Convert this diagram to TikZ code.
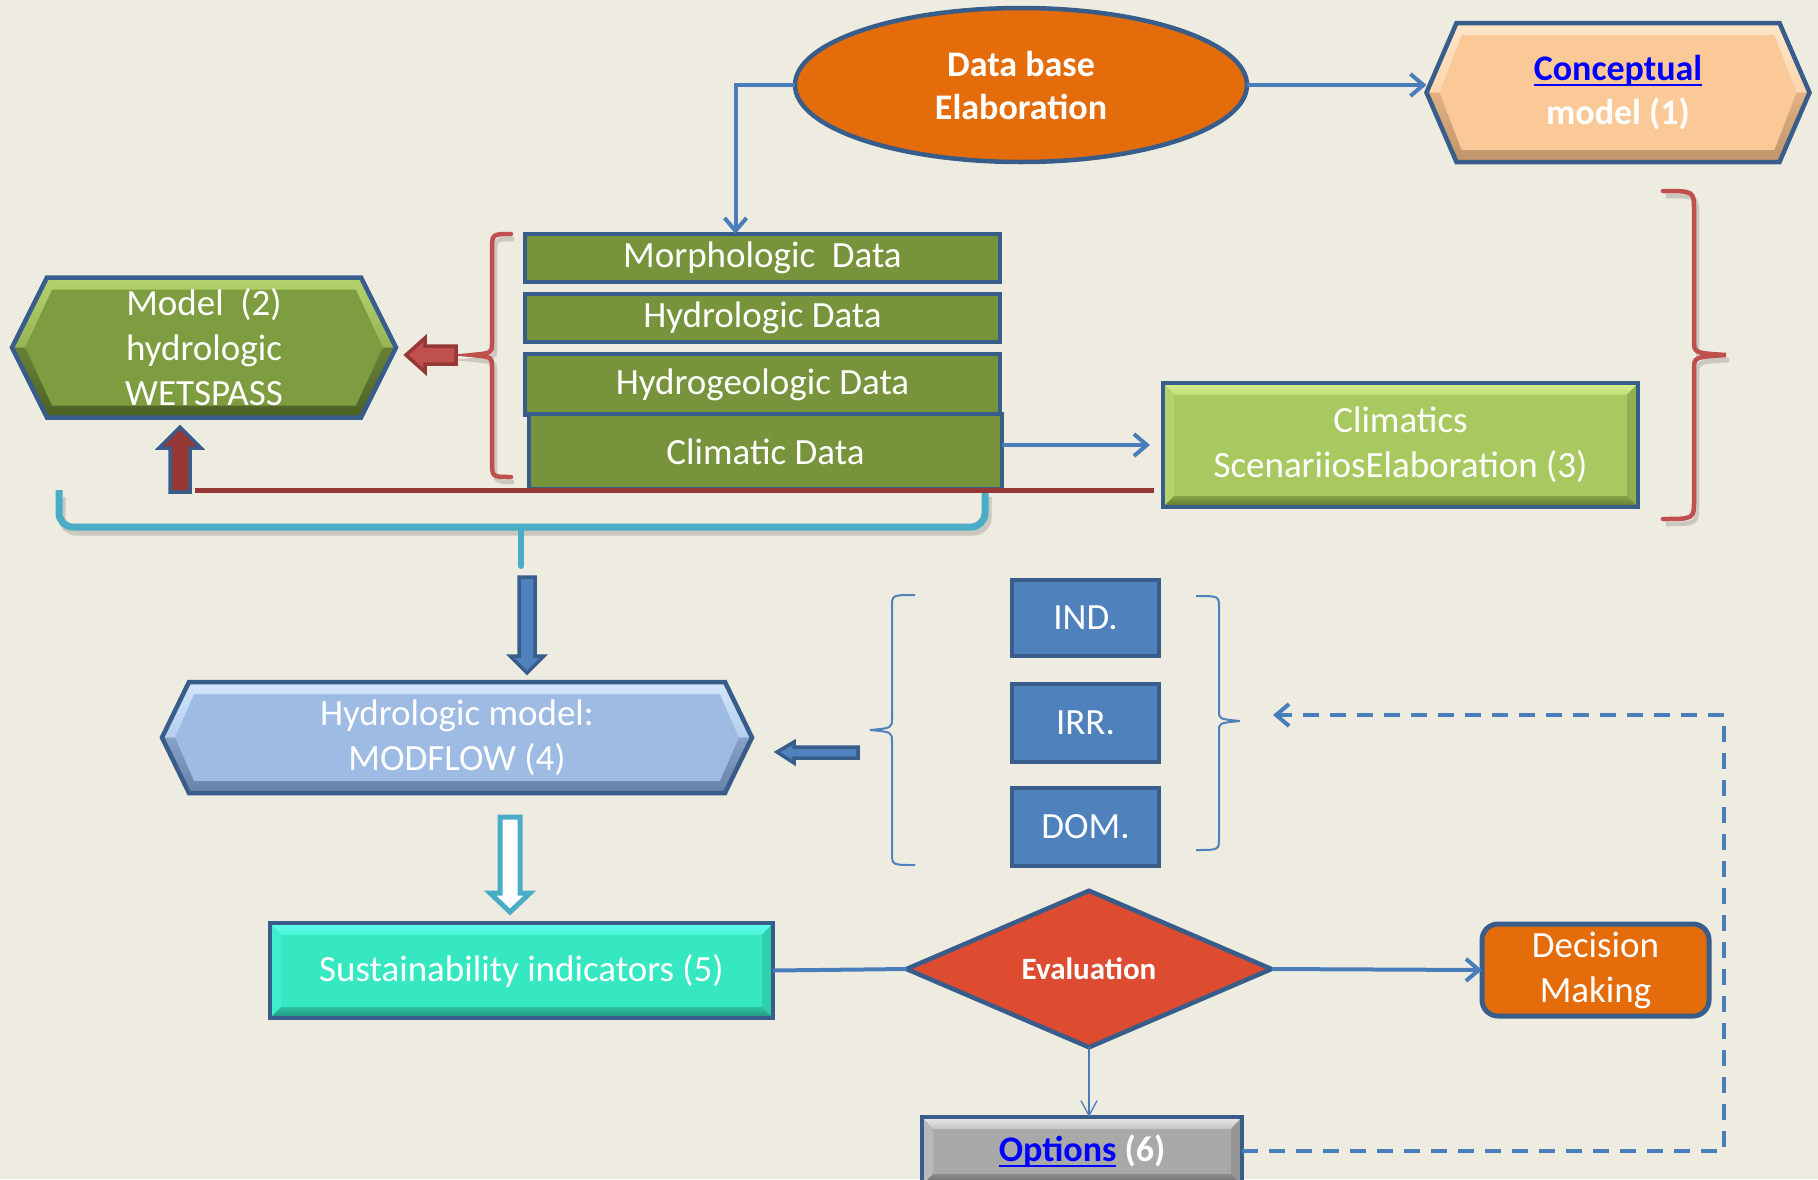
\documentclass[tikz,border=0pt]{standalone}
\usepackage{fontspec}
\setmainfont{Carlito}
\usetikzlibrary{shapes.geometric,arrows.meta,calc}

% palette
\definecolor{paper}{HTML}{EEECE1}
\definecolor{edge}{HTML}{385D8A}
\definecolor{link}{HTML}{4A7EBB}
\definecolor{accblue}{HTML}{4F81BD}
\definecolor{accred}{HTML}{C0504D}
\definecolor{deepred}{HTML}{953735}
\definecolor{aqua}{HTML}{4BACC6}
\definecolor{leaf}{HTML}{77933C}
\definecolor{pumpkin}{HTML}{E46C0A}
\definecolor{evalred}{HTML}{DD4B31}
\definecolor{hyperblue}{HTML}{0000FF}
\definecolor{apricot}{HTML}{FBC898}
\definecolor{apricotlight}{HTML}{FFE6C8}
\definecolor{apricotdark}{HTML}{BF956A}
\definecolor{moss}{HTML}{7E9C40}
\definecolor{mosslight}{HTML}{B5D36C}
\definecolor{mossdark}{HTML}{4C6126}
\definecolor{sky}{HTML}{9DBBE3}
\definecolor{skylight}{HTML}{D2E6FB}
\definecolor{skydark}{HTML}{6882A8}
\definecolor{sprout}{HTML}{A7C95F}
\definecolor{sproutlight}{HTML}{DAF290}
\definecolor{sproutdark}{HTML}{5F762E}
\definecolor{teal}{HTML}{35E8C2}
\definecolor{teallight}{HTML}{62FFF2}
\definecolor{tealdark}{HTML}{22937B}
\definecolor{silver}{HTML}{A9A9A9}
\definecolor{silverlight}{HTML}{EAEAEA}
\definecolor{silverdark}{HTML}{666666}

\pgfdeclarelayer{paperlayer}
\pgfdeclarelayer{bodylayer}
\pgfsetlayers{paperlayer,bodylayer,main}

% underlined hyperlink-style word
\newcommand\hlink[1]{\textcolor{hyperblue}{\sbox0{#1}\rlap{\rule[-6pt]{\wd0}{2.5pt}}\usebox0}}

% bevelled hexagon drawn behind a named node: node, indent, face, light, dark
\newcommand\hexbody[5]{%
  \fill[#3] (#1.west) -- ([xshift=#2]#1.north west) -- ([xshift=-#2]#1.north east) -- (#1.east)
    -- ([xshift=-#2]#1.south east) -- ([xshift=#2]#1.south west) -- cycle;
  % upper bevel
  \shade[top color=#4, bottom color=#4!45!#3]
    (#1.west) -- ([xshift=#2]#1.north west) -- ([xshift=-#2]#1.north east) -- (#1.east)
    -- ([xshift=-13pt]#1.east) -- ([xshift=-#2-5pt, yshift=-12pt]#1.north east)
    -- ([xshift=#2+5pt, yshift=-12pt]#1.north west) -- ([xshift=13pt]#1.west) -- cycle;
  % lower bevel
  \shade[top color=#5!45!#3, bottom color=#5]
    (#1.east) -- ([xshift=-#2]#1.south east) -- ([xshift=#2]#1.south west) -- (#1.west)
    -- ([xshift=13pt]#1.west) -- ([xshift=#2+5pt, yshift=12pt]#1.south west)
    -- ([xshift=-#2-5pt, yshift=12pt]#1.south east) -- ([xshift=-13pt]#1.east) -- cycle;
  \draw[edge, line width=4.5pt, line join=miter] (#1.west) -- ([xshift=#2]#1.north west)
    -- ([xshift=-#2]#1.north east) -- (#1.east) -- ([xshift=-#2]#1.south east)
    -- ([xshift=#2]#1.south west) -- cycle;
}

\tikzset{
  every node/.style={inner sep=0pt, outer sep=0pt},
  txt/.style={text=white, align=center, font=\fontsize{37}{45}\selectfont},
  boldtxt/.style={text=white, align=center, font=\fontsize{36}{44}\selectfont\bfseries},
  databox/.style={txt, draw=edge, line width=4.5pt, fill=leaf, minimum width=475pt},
  usebox/.style={txt, draw=edge, line width=4.5pt, fill=accblue, minimum width=147pt},
  % bevelled rectangle face: face, light, dark
  facet/.style n args={3}{fill=#1, path picture={
      \coordinate (pNW) at (path picture bounding box.north west);
      \coordinate (pNE) at (path picture bounding box.north east);
      \coordinate (pSW) at (path picture bounding box.south west);
      \coordinate (pSE) at (path picture bounding box.south east);
      \shade[top color=#2, bottom color=#2!45!#1]
        (pNW) -- (pNE) -- ([shift={(-11pt,-12pt)}]pNE) -- ([shift={(11pt,-12pt)}]pNW) -- cycle;
      \fill[#2!25!#1]
        (pNW) -- ([shift={(11pt,-12pt)}]pNW) -- ([shift={(11pt,11pt)}]pSW) -- (pSW) -- cycle;
      \fill[#3!30!#1]
        (pNE) -- ([shift={(-11pt,-12pt)}]pNE) -- ([shift={(-11pt,11pt)}]pSE) -- (pSE) -- cycle;
      \shade[top color=#3!45!#1, bottom color=#3]
        (pSW) -- (pSE) -- ([shift={(-11pt,11pt)}]pSE) -- ([shift={(11pt,11pt)}]pSW) -- cycle;}},
  linkarrow/.style={draw=link, line width=4pt, -{Straight Barb[length=13pt,width=22pt]}},
  linkline/.style={draw=link, line width=4pt},
  thinlink/.style={draw=link, line width=1.3pt, -{Straight Barb[length=15pt,width=16pt]}},
  feedback/.style={draw=link, line width=4pt, dash pattern=on 16pt off 11pt, -{Straight Barb[length=13pt,width=22pt]}},
  redbrace/.style={draw=accred, line width=4.5pt, line cap=round},
  bluebrace/.style={draw=accblue, line width=2pt},
  blockedge/.style={line width=3.5pt, line join=miter},
  haze/.style={draw=black, opacity=0.15},
}

\begin{document}
\begin{tikzpicture}[x=1pt,y=-1pt]
\begin{pgfonlayer}{paperlayer}
  \fill[paper] (0,0) rectangle (1818,1179);
\end{pgfonlayer}
\useasboundingbox (0,0) rectangle (1818,1179);

% ---- top row
\node[ellipse, draw=edge, line width=4.5pt, fill=pumpkin, minimum width=452pt, minimum height=154pt,
      boldtxt, font=\fontsize{36}{43}\selectfont\bfseries] (db) at (1021,85) {Data base\\Elaboration};
\node[boldtxt, minimum width=383pt, minimum height=139pt] (concept) at (1618,92.5)
      {\hlink{Conceptual}\\model (1)};

% ---- data sources
\node[databox, minimum height=48pt] (morph) at (762.5,258) {Morphologic~~Data};
\node[databox, minimum height=48pt] (hydro) at (762.5,318) {Hydrologic Data};
\node[databox, minimum height=61pt] (hgeo) at (762.5,384.5) {Hydrogeologic Data};
\node[databox, minimum width=473pt, minimum height=75pt] (clim) at (765.5,451.5) {Climatic Data};

\node[txt, facet={sprout}{sproutlight}{sproutdark}, draw=edge, line width=4.5pt,
      minimum width=475pt, minimum height=124pt] (scen) at (1400.5,445)
      {Climatics\\ScenariiosElaboration (3)};

\node[txt, minimum width=384pt, minimum height=140pt] (wetspass) at (204,347.5)
      {Model~~(2)\\hydrologic\\WETSPASS};

% ---- groundwater model and demands
\node[txt, minimum width=590pt, minimum height=111pt] (hmod) at (457,737.5)
      {Hydrologic model:\\MODFLOW (4)};
\node[usebox, minimum height=76pt] (ind) at (1085.5,618) {IND.};
\node[usebox, minimum height=78pt] (irr) at (1085.5,723) {IRR.};
\node[usebox, minimum height=78pt] (dom) at (1085.5,827) {DOM.};

% ---- evaluation row
\node[txt, facet={teal}{teallight}{tealdark}, draw=edge, line width=4.5pt,
      minimum width=503pt, minimum height=95pt] (sust) at (521.5,970.5) {Sustainability indicators (5)};
\node[diamond, draw=edge, line width=4.5pt, fill=evalred, minimum width=365pt, minimum height=153pt,
      text=white, font=\fontsize{31}{37}\selectfont\bfseries] (eval) at (1089,969) {Evaluation};
\node[txt, draw=edge, line width=5pt, fill=pumpkin, rounded corners=16pt,
      minimum width=227pt, minimum height=92pt] (dec) at (1595.5,970) {Decision\\Making};
\node[boldtxt, facet={silver}{silverlight}{silverdark}, draw=edge, line width=4.5pt,
      minimum width=320pt, minimum height=68pt] (opt) at (1082,1151) {\hlink{Options} (6)};

% ---- hexagon bodies behind their labels
\begin{pgfonlayer}{bodylayer}
  \hexbody{concept}{30pt}{apricot}{apricotlight}{apricotdark}
  \hexbody{wetspass}{35pt}{moss}{mosslight}{mossdark}
  \hexbody{hmod}{27pt}{sky}{skylight}{skydark}
\end{pgfonlayer}

% ---- connectors
\draw[linkarrow] (db.east) -- (db.east -| concept.west);
\draw[linkarrow] (db.west) -| ([xshift=-27pt]morph.north);
\draw[linkarrow] (scen.west -| clim.east) -- ([xshift=-13pt]scen.west);
\draw[linkline] (sust.east) -- (eval.west);
\draw[linkarrow] (eval.east) -- (dec.west);
\draw[thinlink] (eval.south) -- (eval.south |- opt.north);
\coordinate (fbcorner) at (1724,1151);
\coordinate (fbtop) at (1724,715);
\coordinate (fbend) at (1273,715);
\draw[feedback] (opt.east) -- (fbcorner) -- (fbtop) -- (fbend);

% ---- braces
\begin{scope}[shift={(3,5)}]
  \draw[haze, line width=4.5pt] (511,234) .. controls (492,234) .. (492,250) -- (492,343)
    .. controls (492,353) .. (472,355) .. controls (492,357) .. (492,367) -- (492,461)
    .. controls (492,477) .. (511,477);
  \draw[haze, line width=4.5pt] (1663,191) .. controls (1694,191) .. (1694,210) -- (1694,340)
    .. controls (1694,353) .. (1726,355) .. controls (1694,357) .. (1694,370) -- (1694,500)
    .. controls (1694,519) .. (1663,519);
  \draw[haze, line width=7pt, rounded corners=14pt] (59,492) |- (521,527) -| (985,492);
\end{scope}
\draw[redbrace] (511,234) .. controls (492,234) .. (492,250) -- (492,343)
  .. controls (492,353) .. (472,355) .. controls (492,357) .. (492,367) -- (492,461)
  .. controls (492,477) .. (511,477);
\draw[redbrace] (1663,191) .. controls (1694,191) .. (1694,210) -- (1694,340)
  .. controls (1694,353) .. (1726,355) .. controls (1694,357) .. (1694,370) -- (1694,500)
  .. controls (1694,519) .. (1663,519);
\draw[aqua, line width=7pt, rounded corners=14pt] (59,490) |- (521,527) -| (985,490);
\draw[aqua, line width=6pt, line cap=round] (521,527) .. controls (521,535) .. (521,566);

\draw[bluebrace] (915,595) .. controls (892,595) .. (892,607) -- (892,718)
  .. controls (892,728) .. (870,730) .. controls (892,732) .. (892,742) -- (892,853)
  .. controls (892,865) .. (915,865);
\draw[bluebrace] (1196,596) .. controls (1219,596) .. (1219,608) -- (1219,711)
  .. controls (1219,719) .. (1240,721) .. controls (1219,723) .. (1219,731) -- (1219,838)
  .. controls (1219,850) .. (1196,850);

% ---- return line from the scenarios to the WETSPASS model
\draw[deepred, line width=5pt] (195,490) -- (1154,490);

% ---- block arrows
\filldraw[fill=accred, draw=deepred, blockedge] (406,355) -- (425,338) -- (425,346) -- (456,346)
  -- (456,364) -- (425,364) -- (425,372) -- cycle;
\filldraw[fill=deepred, draw=edge, blockedge] (180,427) -- (201,448) -- (190,448) -- (190,492)
  -- (170,492) -- (170,448) -- (159,448) -- cycle;
\filldraw[fill=accblue, draw=edge, blockedge] (527,673) -- (510,656) -- (519,656) -- (519,577)
  -- (535,577) -- (535,656) -- (544,656) -- cycle;
\filldraw[fill=accblue, draw=edge, blockedge] (777,752) -- (794,742) -- (794,747) -- (858,747)
  -- (858,758) -- (794,758) -- (794,763) -- cycle;
\filldraw[fill=white, draw=aqua, line width=5pt, line join=miter] (510,912) -- (490,893) -- (500,893)
  -- (500,817) -- (520,817) -- (520,893) -- (530,893) -- cycle;
\end{tikzpicture}
\end{document}
